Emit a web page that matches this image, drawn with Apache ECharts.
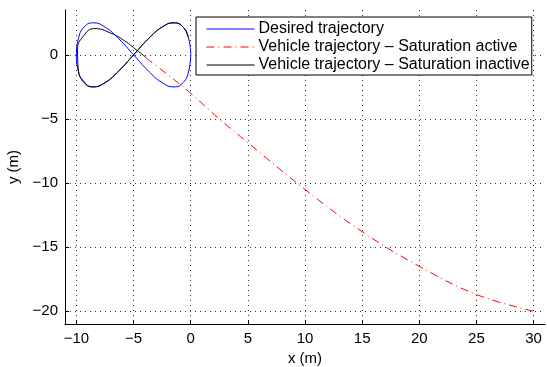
<!DOCTYPE html>
<html>
<head>
<meta charset="utf-8">
<script src="https://cdn.jsdelivr.net/npm/echarts@6/dist/echarts.min.js"></script>
<style>
  html, body { margin: 0; padding: 0; background: #fff; }
  #chart { width: 547px; height: 367px; }
</style>
</head>
<body>
<div id="chart"></div>
<script>
// tick positions
const xTicks = [-10, -5, 0, 5, 10, 15, 20, 25, 30];
const yTicks = [-20, -15, -10, -5, 0];

const seriesNames = [
  'Desired trajectory',
  'Vehicle trajectory \u2013 Saturation active',
  'Vehicle trajectory \u2013 Saturation inactive'
];

// figure-eight reference, points
const desiredTrajectory = [
  [0, 0], [-0.17, 1.25], [-0.67, 2.17], [-1.46, 2.5], [-2.5, 2.17], [-3.71, 1.25],
  [-5, 0], [-6.29, -1.25], [-7.5, -2.17], [-8.54, -2.5], [-9.33, -2.17], [-9.83, -1.25],
  [-10, 0], [-9.83, 1.25], [-9.33, 2.17], [-8.54, 2.5], [-7.5, 2.17], [-6.29, 1.25],
  [-5, 0], [-3.71, -1.25], [-2.5, -2.17], [-1.46, -2.5], [-0.67, -2.17], [-0.17, -1.25],
  [0, 0]
];

// red dash-dot, leaves the loop and drifts away
const activeTrajectory = [
  [-3.9, -0.25], [-2, -1.55], [0, -3.0], [2.5, -5.0], [5, -6.85],
  [10, -10.5], [15, -13.8], [20, -16.5], [25, -18.7], [30, -20]
];

// black curve, follows the loop
const inactiveTrajectory = [
  [-3.9, -0.2], [-4.7, 0.35], [-5.8, 1.1], [-7.0, 1.7], [-8.4, 2.05], [-9.4, 1.45],
  [-9.9, 0.4], [-9.85, -1.1], [-9.33, -2.1], [-8.54, -2.5], [-7.5, -2.17], [-6.29, -1.25],
  [-5, 0], [-3.71, 1.25], [-2.5, 2.17], [-1.46, 2.5], [-0.67, 2.17], [-0.24, 1.4]
];

const chart = echarts.init(document.getElementById('chart'));

const font = 'Liberation Sans, Arial, Helvetica, sans-serif';
const minus = v => String(v).replace('-', '\u2212');

const gridLine = {
  show: true,
  lineStyle: { color: '#333', width: 1, type: [1, 4] }
};

const option = {
  animation: false,
  backgroundColor: '#fff',
  textStyle: { fontFamily: font, color: '#000' },
  grid: { left: 65, right: 2, top: 10, bottom: 43, outerBoundsMode: 'none' },
  legend: {
    data: seriesNames,
    orient: 'vertical',
    left: 196,
    top: 17,
    width: 341,
    padding: [4, 2, 2, 10],
    itemWidth: 48,
    itemHeight: 18.5,
    itemGap: 2,
    backgroundColor: '#fff',
    borderColor: '#000',
    borderWidth: 1,
    borderRadius: 0,
    // only the line sample, no marker
    itemStyle: { opacity: 0 },
    lineStyle: { width: 1 },
    textStyle: { fontFamily: font, fontSize: 16, color: '#000', padding: [0, 0, 0, -1] }
  },
  xAxis: {
    type: 'value',
    min: -11,
    max: 31,
    name: 'x (m)',
    nameLocation: 'middle',
    nameGap: 25,
    nameTextStyle: { fontFamily: font, fontSize: 15, color: '#000' },
    axisLine: { onZero: false, lineStyle: { color: '#000', width: 1 } },
    axisTick: { customValues: xTicks, inside: true, length: 4, lineStyle: { color: '#000' } },
    axisLabel: { customValues: xTicks, formatter: minus, fontSize: 15, color: '#000', margin: 7 },
    splitLine: gridLine
  },
  yAxis: {
    type: 'value',
    min: -21,
    max: 3.5,
    name: 'y (m)',
    nameLocation: 'middle',
    nameGap: 37,
    nameTextStyle: { fontFamily: font, fontSize: 15, color: '#000' },
    axisLine: { show: true, onZero: false, lineStyle: { color: '#000', width: 1 } },
    axisTick: { show: true, customValues: yTicks, inside: true, length: 4, lineStyle: { color: '#000' } },
    axisLabel: { customValues: yTicks, formatter: minus, fontSize: 15, color: '#000', margin: 7 },
    splitLine: gridLine
  },
  series: [
    {
      name: seriesNames[0],
      type: 'line',
      data: desiredTrajectory,
      smooth: 0.5,
      symbol: 'none',
      lineStyle: { color: '#0000ff', width: 1 },
      itemStyle: { color: '#0000ff' }
    },
    {
      name: seriesNames[1],
      type: 'line',
      data: activeTrajectory,
      smooth: 0.4,
      symbol: 'none',
      lineStyle: { color: '#ff0000', width: 1, type: [8, 4, 1, 4] },
      itemStyle: { color: '#ff0000' }
    },
    {
      name: seriesNames[2],
      type: 'line',
      data: inactiveTrajectory,
      smooth: 0.5,
      symbol: 'none',
      lineStyle: { color: '#000', width: 1 },
      itemStyle: { color: '#000' }
    }
  ]
};

chart.setOption(option);
</script>
</body>
</html>
